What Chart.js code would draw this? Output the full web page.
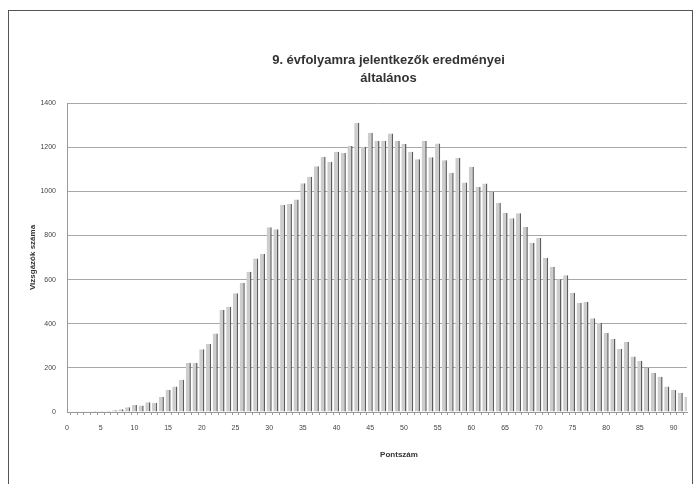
<!DOCTYPE html>
<html>
<head>
<meta charset="utf-8">
<script src="https://cdn.jsdelivr.net/npm/chart.js@4.4.1/dist/chart.umd.min.js"></script>
<style>
    body { margin: 0; background: #fff; }
    #wrap { position: relative; width: 698px; height: 484px; overflow: hidden; }
    #frame { position: absolute; left: 8px; top: 10px; width: 683px; height: 490px; border: 1px solid #555; }
    canvas { position: absolute; left: 0; top: 0; }
</style>
</head>
<body>
<div id="wrap">
    <div id="frame"></div>
    <canvas id="chart" width="698" height="484"></canvas>
</div>
<script>
// pontszám 0..92
const scores = [];
for (let i = 0; i <= 92; i++) scores.push(String(i));

// vizsgázók száma pontszámonként
const counts = [
    2, 3, 3, 3, 4, 5, 6, 8, 12, 22,
    32, 30, 44, 42, 68, 100, 115, 146, 223, 223,
    284, 308, 356, 462, 477, 538, 586, 635, 696, 716,
    837, 828, 938, 942, 963, 1036, 1066, 1114, 1157, 1134,
    1179, 1174, 1205, 1311, 1202, 1265, 1229, 1229, 1262, 1229,
    1214, 1179, 1145, 1229, 1154, 1217, 1141, 1084, 1152, 1040,
    1110, 1020, 1035, 998, 948, 902, 878, 900, 838, 767,
    788, 698, 658, 602, 620, 540, 495, 500, 425, 403,
    358, 331, 285, 317, 251, 232, 199, 178, 160, 115,
    100, 87, 69
];

const yTicks = [0, 200, 400, 600, 800, 1000, 1200, 1400];

const titleLines = ["9. évfolyamra jelentkezők eredményei", "általános"];

// Excel-es elrendezés: a címek kicsit jobbra vannak a középtől
const shiftTitles = {
    id: 'shiftTitles',
    afterLayout(chart) {
        chart.titleBlock.left += 90;
        const x = chart.scales.x;
        if (!x._shifted) {
            const orig = x.drawTitle;
            x.drawTitle = function () {
                this.ctx.save();
                this.ctx.translate(22, 0);
                orig.apply(this, arguments);
                this.ctx.restore();
            };
            x._shifted = true;
        }
    }
};

const ctx = document.getElementById('chart').getContext('2d');
new Chart(ctx, {
    type: 'bar',
    data: {
        labels: scores,
        datasets: [{
            label: 'Vizsgázók száma',
            data: counts,
            backgroundColor: '#cdcdcd',
            borderColor: '#5c5c5c',
            borderWidth: { top: 0, right: 1.5, bottom: 0, left: 0 },
            borderSkipped: false,
            barPercentage: 0.76,
            categoryPercentage: 1
        }]
    },
    plugins: [shiftTitles],
    options: {
        responsive: false,
        animation: false,
        layout: {
            padding: { top: 0, right: 11, bottom: 0, left: 0 }
        },
        plugins: {
            legend: { display: false },
            tooltip: { enabled: false },
            title: {
                display: true,
                text: titleLines,
                color: '#333',
                font: { family: 'Liberation Sans', size: 13, weight: 'bold', lineHeight: 1.385 },
                padding: { top: 51, bottom: 16 }
            }
        },
        scales: {
            x: {
                offset: false,
                grid: {
                    drawOnChartArea: false,
                    drawTicks: true,
                    tickLength: 3,
                    color: '#999'
                },
                border: { display: true, color: '#999' },
                ticks: {
                    autoSkip: false,
                    maxRotation: 0,
                    padding: 9,
                    color: '#444',
                    font: { family: 'Liberation Sans', size: 7 },
                    callback: function (value, index) {
                        return index % 5 === 0 ? scores[index] : '';
                    }
                },
                title: {
                    display: true,
                    text: 'Pontszám',
                    color: '#333',
                    font: { family: 'Liberation Sans', size: 8, weight: 'bold' },
                    padding: { top: 0, bottom: 24 }
                },
                afterFit: function (scale) { scale.height = 72; }
            },
            y: {
                min: 0,
                max: 1400,
                afterBuildTicks: function (scale) {
                    scale.ticks = yTicks.map(v => ({ value: v }));
                },
                grid: {
                    color: '#a8a8a8',
                    lineWidth: 1,
                    drawTicks: false
                },
                border: { display: true, color: '#999' },
                ticks: {
                    padding: 11,
                    color: '#444',
                    font: { family: 'Liberation Sans', size: 7 },
                    callback: function (value) { return String(value); }
                },
                title: {
                    display: true,
                    text: 'Vizsgázók száma',
                    color: '#333',
                    font: { family: 'Liberation Sans', size: 8, weight: 'bold' },
                    padding: { top: 28, bottom: 0 }
                },
                afterFit: function (scale) { scale.width = 67; }
            }
        }
    }
});
</script>
</body>
</html>
